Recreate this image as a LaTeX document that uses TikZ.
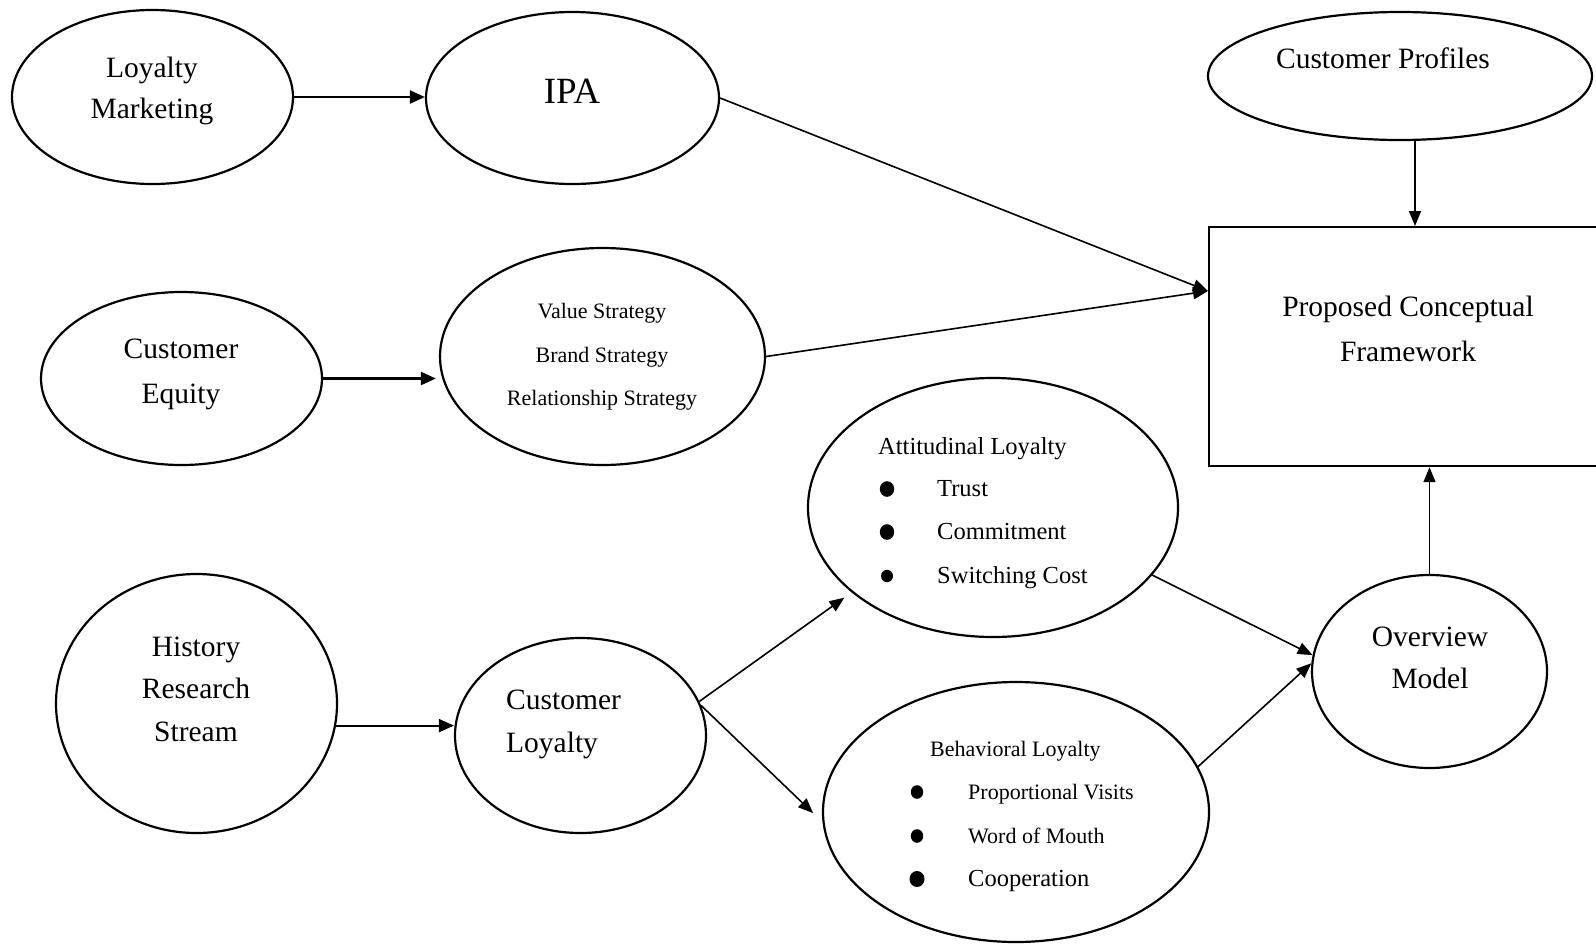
\documentclass[tikz,border=0pt]{standalone}
\usepackage{fontspec}
\setmainfont{Liberation Serif}
\usetikzlibrary{shapes.geometric,arrows.meta}
\newcommand\fz[2]{\fontsize{#1}{#2}\selectfont}
\begin{document}
\begin{tikzpicture}[x=1pt,y=-1pt,
  ell/.style={draw, ellipse, line width=2.2pt, inner sep=0pt},
  lbl/.style={inner sep=0pt, align=center},
  one/.style={inner sep=0pt, text height=0.7em, text depth=0.22em},
  con/.style={line width=1.6pt, -{Triangle[length=15pt,width=12pt]}},
  conh/.style={line width=2.2pt, -{Triangle[length=15pt,width=13pt]}},
  dot/.style={fill=black}]
\useasboundingbox (0,0) rectangle (1596,943);

% shapes
\node[ell, minimum width=281pt, minimum height=174pt] (lm)  at (152.5,97) {};
\node[ell, minimum width=293pt, minimum height=172pt] (ipa) at (572.5,98) {};
\node[ell, minimum width=384pt, minimum height=128pt] (cp)  at (1400,76) {};
\node[draw, line width=2.2pt, inner sep=0pt, minimum width=420pt, minimum height=239pt, anchor=north west] (pcf) at (1208,226) {};
\node[ell, minimum width=281pt, minimum height=173pt] (ce)  at (181.5,378.5) {};
\node[ell, minimum width=325pt, minimum height=217pt] (st)  at (602.5,356.5) {};
\node[ell, minimum width=370pt, minimum height=259pt] (att) at (993,507.5) {};
\node[ell, minimum width=281pt, minimum height=259pt] (h)   at (196.5,703.5) {};
\node[ell, minimum width=251pt, minimum height=195pt] (cl)  at (580.5,735.5) {};
\node[ell, minimum width=386pt, minimum height=260pt] (beh) at (1016,812) {};
\node[ell, minimum width=235pt, minimum height=193pt] (ov)  at (1429.5,671.5) {};

% texts
\node[lbl, font=\fz{29.5}{41}] (lmt) at (152,91) {Loyalty\\Marketing};
\node[lbl, font=\fz{37}{40}] (ipat) at (572,91) {IPA};
\node[one, font=\fz{29.5}{35}] (cpt) at (1383,66) {Customer Profiles};
\node[lbl, font=\fz{29.5}{45}] (pcft) at (1408,329) {Proposed Conceptual\\Framework};
\node[lbl, font=\fz{29.5}{45}] (cet) at (181,374) {Customer\\Equity};
\node[lbl, font=\fz{22}{43.5}] (stt) at (602,357) {Value Strategy\\Brand Strategy\\Relationship Strategy};
\node[lbl, font=\fz{29.5}{42.5}] (ht) at (196,689) {History\\Research\\Stream};
\node[lbl, align=left, anchor=west, font=\fz{29.5}{43}] (clt) at (506,724) {Customer\\Loyalty};
\node[lbl, font=\fz{29.5}{42}] (ovt) at (1430,657.5) {Overview\\Model};

% attitudinal list
\node[one, anchor=west, font=\fz{24.5}{28}] (att0) at (878,452) {Attitudinal Loyalty};
\node[one, anchor=west, font=\fz{24.5}{28}] (att1) at (937,494) {Trust};
\node[one, anchor=west, font=\fz{24.5}{28}] (att2) at (937,537) {Commitment};
\node[one, anchor=west, font=\fz{24.5}{28}] (att3) at (937,581) {Switching Cost};
\fill[dot] (887,489) ellipse [x radius=7.2pt, y radius=7.8pt];
\fill[dot] (887,532) ellipse [x radius=7.2pt, y radius=7.8pt];
\fill[dot] (887,576) ellipse [x radius=6pt, y radius=6.2pt];

% behavioral list
\node[one, anchor=west, font=\fz{22}{26}] (beh0) at (930,754) {Behavioral Loyalty};
\node[one, anchor=west, font=\fz{22}{26}] (beh1) at (968,797) {Proportional Visits};
\node[one, anchor=west, font=\fz{22}{26}] (beh2) at (968,841) {Word of Mouth};
\node[one, anchor=west, font=\fz{24.5}{28}] (beh3) at (968,884) {Cooperation};
\fill[dot] (917,792) ellipse [x radius=6.2pt, y radius=6.8pt];
\fill[dot] (917,836) ellipse [x radius=6.2pt, y radius=6.8pt];
\fill[dot] (917,879) ellipse [x radius=7.5pt, y radius=8pt];

% connectors
\coordinate (pin) at ([yshift=-65pt]pcf.north west);
\coordinate (cpx) at (1415,0);
\draw[conh] (lm.east) -- (lm.east -| ipa.west);
\draw[con] (ipa.east) -- (pin);
\draw[con] (st.east) -- (pin);
\draw[con] (cpx |- cp.south) -- (cpx |- pcf.north);
\draw[conh, shorten >=3pt] (ce.east) -- (ce.east -| st.west);
\draw[conh] (h.-9.2) -- (h.-9.2 -| cl.west);
\draw[con, shorten >=9pt] (cl.16.3) -- (att.211.2);
\draw[con, shorten >=13pt] (cl.14.6) -- (beh.183);
\draw[con] (att.-23.2) -- (ov.172);
\draw[con] (beh.14) -- (ov.176);
\draw[con] (ov.north) -- (ov.north |- pcf.south);
\end{tikzpicture}
\end{document}
